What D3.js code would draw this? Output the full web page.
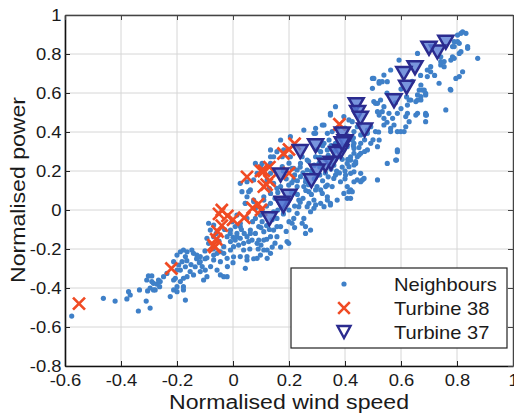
<!DOCTYPE html>
<html>
<head>
<meta charset="utf-8">
<script src="https://cdn.jsdelivr.net/npm/d3@7"></script>
<style>
body { margin: 0; background: #fff; }
text { font-family: "Liberation Sans", Arial, sans-serif; fill: #1a1a1a; }
</style>
</head>
<body>
<script>
// values
var neighbours = [
  [-0.576,-0.544],[-0.463,-0.453],[-0.421,-0.467],[-0.379,-0.456],[-0.367,-0.436],[-0.373,-0.419],[-0.334,-0.41],[-0.338,-0.518],
  [-0.31,-0.467],[-0.296,-0.503],[-0.305,-0.415],[-0.296,-0.40],[-0.284,-0.376],[-0.302,-0.338],[-0.29,-0.338],[-0.272,-0.38],
  [-0.262,-0.393],[-0.26,-0.367],[-0.278,-0.41],[-0.224,-0.444],[-0.2,-0.393],[-0.2,-0.419],[-0.248,-0.342],[-0.236,-0.325],
  [-0.2,-0.231],[-0.188,-0.214],[-0.177,-0.205],[-0.17,-0.239],[-0.17,-0.291],[-0.165,-0.26],[-0.177,-0.35],[-0.17,-0.462],
  [-0.188,-0.367],[-0.2,-0.308],[-0.212,-0.265],[-0.308,-0.359],[-0.29,-0.367],[-0.266,-0.359],[-0.284,-0.41],[-0.212,-0.359],
  [-0.206,-0.35],[-0.188,-0.308],[-0.194,-0.282],[-0.182,-0.265],[-0.164,-0.214],[-0.147,-0.205],[-0.129,-0.231],[-0.117,-0.265],
  [-0.135,-0.291],[-0.153,-0.316],[-0.141,-0.333],[-0.164,-0.342],[-0.177,-0.393],[-0.177,-0.41],[-0.212,-0.41],[-0.117,-0.316],
  [-0.099,-0.308],[-0.093,-0.342],[-0.105,-0.359],[-0.069,-0.256],[-0.057,-0.308],[-0.045,-0.333],[-0.033,-0.342],[-0.021,-0.342],
  [-0.087,-0.171],[-0.069,-0.137],[-0.087,-0.068],[-0.057,-0.222],[-0.045,-0.265],[-0.033,-0.222],[-0.009,-0.205],[0.002,-0.188],
  [0.014,-0.137],[0.026,-0.085],[0.044,-0.299],[0.05,-0.239],[0.038,-0.205],[0.056,-0.162],[0.062,-0.12],[0.086,-0.248],[0.092,-0.154],
  [-0.141,-0.222],[-0.117,-0.239],[-0.093,-0.245],[-0.069,-0.231],[-0.045,-0.214],[-0.021,-0.248],[0.002,-0.24],[0.026,-0.239],
  [0.05,-0.256],[0.074,-0.25],[0.098,-0.231],[0.122,-0.205],[0.14,-0.19],
  [-0.009,-0.103],[0.014,-0.12],[0.026,-0.145],[0.008,-0.154],[0.038,-0.171],[0.05,-0.137],[0.062,-0.103],[0.068,-0.154],
  [0.086,-0.171],[0.092,-0.085],[0.104,-0.06],[0.11,-0.111],[0.134,-0.137],[0.12,-0.15],[0.145,-0.103],[0.157,-0.085],[0.157,-0.043],
  [0.05,0.068],[0.062,0.103],[0.032,0.094],[0.08,0.009],[0.074,0.051],[0.044,0.034],[0.11,0.068],[0.134,0.034],[0.145,-0.009],
  [0.104,0.0],[0.098,-0.026],[0.104,0.239],[0.026,-0.068],[0.008,-0.085],[-0.069,-0.077],[-0.081,-0.103],[-0.093,-0.145],
  [-0.009,-0.162],[-0.033,-0.188],[-0.021,-0.137],[-0.003,-0.06],[0.014,-0.026],[0.05,-0.043],[0.08,-0.043],
  [0.366,0.53],[0.348,0.487],[0.319,0.436],[0.337,0.393],[0.289,0.393],[0.253,0.41],[0.205,0.376],[0.157,0.299],[0.145,0.273],
  [0.176,0.222],[0.217,0.214],[0.241,0.239],[0.265,0.205],[0.217,0.154],[0.253,0.12],[0.313,0.103],[0.337,0.128],[0.36,0.162],
  [0.384,0.145],[0.402,0.179],[0.414,0.222],[0.432,0.196],[0.444,0.154],[0.42,0.103],[0.396,0.085],[0.372,0.051],[0.337,0.051],
  [0.325,0.017],[0.289,0.051],[0.265,0.017],[0.396,0.308],[0.408,0.325],[0.432,0.291],[0.426,0.359],[0.384,0.273],[0.432,0.402],
  [0.444,0.427],[0.414,0.462],[0.396,0.479],[0.438,0.239],[0.444,0.273],[0.17,0.359],[0.134,0.308],
  [0.706,0.709],[0.694,0.684],[0.671,0.641],[0.677,0.615],[0.688,0.598],[0.659,0.59],[0.653,0.556],[0.629,0.564],[0.623,0.538],
  [0.688,0.487],[0.688,0.453],[0.653,0.487],[0.623,0.496],[0.617,0.479],[0.629,0.453],[0.611,0.402],[0.587,0.402],[0.563,0.402],
  [0.575,0.436],[0.539,0.436],[0.557,0.496],[0.533,0.504],[0.516,0.504],[0.516,0.547],[0.527,0.564],[0.503,0.556],[0.498,0.624],
  [0.522,0.65],[0.533,0.658],[0.551,0.658],[0.539,0.692],[0.563,0.718],[0.503,0.675],[0.587,0.308],[0.581,0.256],[0.551,0.239],
  [0.516,0.325],[0.492,0.342],[0.48,0.41],[0.456,0.385],[0.432,0.316],[0.42,0.256],[0.48,0.308],[0.671,0.564],[0.599,0.402],
  [0.82,0.914],[0.832,0.906],[0.802,0.897],[0.79,0.863],[0.808,0.855],[0.784,0.838],[0.838,0.838],[0.814,0.812],[0.784,0.786],
  [0.79,0.778],[0.874,0.778],[0.754,0.761],[0.742,0.744],[0.754,0.735],[0.706,0.735],[0.694,0.718],[0.82,0.709],[0.808,0.684],
  [0.796,0.675],[0.736,0.65],[0.778,0.615],[0.688,0.59],[0.76,0.513],[0.688,0.496],[0.776,0.619],[0.683,0.615],[0.691,0.487],
  [0.659,0.496],[0.498,0.675],[0.522,0.658],[0.593,0.769],[0.659,0.803],[0.742,0.761],[0.742,0.786],[0.778,0.769],[0.814,0.906],
  [0.802,0.863],[0.838,0.829],[0.808,0.803],[0.79,0.838],[0.348,0.496],[0.325,0.436],[0.295,0.419],[0.295,0.393],[0.354,0.402],
  [0.372,0.419],[0.426,0.453],[0.509,0.547],[0.539,0.53],[0.522,0.487],[0.539,0.47],[0.587,0.496],[0.617,0.427],[0.659,0.564],
  [0.635,0.564],[0.671,0.581],[0.665,0.615],[0.48,0.393],[0.492,0.427],[0.509,0.402],[0.563,0.419],[0.522,0.359],[0.456,0.342],
  [0.432,0.342],[0.42,0.273],[0.456,0.291],[0.408,0.239],[0.456,0.188],[0.42,0.188],[0.366,0.179],[0.354,0.12],[0.331,0.12],
  [0.319,0.085],[0.337,0.068],[0.295,0.103],[0.271,0.094],[0.259,0.145],[0.241,0.171],[0.229,0.205],[0.211,0.214],[0.205,0.273],
  [0.247,0.273],[0.265,0.256],[0.295,0.273],[0.313,0.299],[0.337,0.308],[0.343,0.359],[0.325,0.342],[0.366,0.342],[0.36,0.273],
  [0.307,0.239],[0.181,0.308],[0.176,0.273],[0.134,0.273],[0.134,0.239],[0.098,0.222],[0.086,0.188],[0.074,0.154],[0.122,0.154],
  [0.145,0.137],[0.157,0.111],[0.134,0.085],[0.11,0.051],[0.229,0.12],[0.235,0.051],[0.271,0.034],[0.295,0.026],[0.134,0.188],
  [0.199,0.128],[0.584,0.256],[0.587,0.299],[0.516,0.154],[0.462,0.154],[0.432,0.145],[0.408,0.12],[0.414,0.094],[0.408,0.06],
  [0.348,0.034],[0.313,0.034],
  [0.348,0.026],[0.289,0.009],[0.277,-0.009],[0.253,-0.043],[0.247,-0.068],[0.259,-0.085],[0.277,-0.103],[0.259,-0.12],
  [0.193,-0.162],[0.199,-0.171],[0.211,-0.068],[0.217,-0.043],[0.229,-0.017],[0.235,0.017],[0.157,-0.137],[0.17,-0.085],
  [0.134,-0.222],[0.122,-0.248],[0.11,-0.205],[0.11,-0.154],
  [0.438,0.248],[0.432,0.231],[0.45,0.282],[0.468,0.162],[0.456,0.145],[0.426,0.094],[0.42,0.06],
  [0.026,0.137],[0.05,0.145],[0.056,0.094],[0.074,0.043],[0.044,0.034],[0.08,0.239],
  [0.19,0.05],[0.21,0.09],[0.23,0.08],[0.25,0.06],[0.27,0.13],[0.29,0.16],[0.31,0.18],[0.33,0.19],[0.35,0.21],[0.37,0.2],
  [0.39,0.22],[0.41,0.26],[0.37,0.32],[0.35,0.33],[0.31,0.27],[0.29,0.23],[0.27,0.25],[0.25,0.19],[0.23,0.15],[0.21,0.14],
  [0.19,0.16],[0.17,0.12],[0.15,0.06],[0.13,0.11],[0.12,0.02],[0.16,0.0],[0.18,-0.02],[0.2,-0.06],[0.22,-0.09],[0.19,-0.11],
  [0.15,-0.17],[0.17,-0.19],[0.06,-0.2],[0.03,-0.1],[-0.01,-0.12],[-0.05,-0.16],[-0.07,-0.2],[-0.1,-0.21],[-0.12,-0.27],
  [-0.08,-0.29],[0.1,-0.18],[0.08,-0.12],[0.12,-0.08],[0.14,-0.05],[0.31,0.22],[0.33,0.26],[0.39,0.26],[0.4,0.2],[0.43,0.33],
  [0.47,0.36],[0.38,0.37],[0.4,0.42],
  [0.32,0.15],[0.34,0.17],[0.36,0.23],[0.38,0.19],[0.4,0.16],[0.3,0.12],[0.28,0.08],[0.26,0.1],[0.24,0.04],[0.22,0.02],
  [0.2,0.0],[0.18,0.06],[0.16,0.09],[0.28,0.2],[0.26,0.16],[0.24,0.22],[0.22,0.18],[0.2,0.24],[0.18,0.2],[0.3,0.31],
  [0.32,0.33],[0.34,0.28],[0.36,0.3],[0.38,0.33],[0.41,0.38],[0.43,0.37],[0.45,0.32],[0.47,0.3],[0.5,0.36],[0.52,0.4],
  [0.55,0.45],[0.57,0.47],[0.6,0.52],[0.62,0.58],[0.58,0.55],[0.55,0.6],[0.6,0.62],[0.64,0.66],[0.67,0.69],[0.72,0.69],
  [0.0,-0.14],[0.02,-0.18],[-0.03,-0.1],[-0.06,-0.12],[0.04,-0.12],[0.07,-0.06],[0.1,-0.09],[0.13,-0.1],[0.09,-0.2],
  [-0.1,-0.25],[-0.13,-0.25],[-0.15,-0.28],[-0.11,-0.29],[-0.02,-0.29],[0.0,-0.27]
];

var turbine38 = [
  [-0.55,-0.48],[-0.22,-0.30],[-0.07,-0.18],[-0.06,-0.15],[-0.065,-0.19],[-0.055,-0.11],[-0.04,-0.08],[-0.05,-0.02],
  [-0.02,-0.03],[-0.04,0.0],[0.0,-0.05],[0.04,-0.04],[0.07,0.01],[0.09,0.03],[0.1,0.0],[0.05,0.17],[0.1,0.2],[0.13,0.22],
  [0.12,0.13],[0.11,0.12],[0.13,0.15],[0.18,0.29],[0.2,0.31],[0.22,0.34],[0.2,0.19],[0.38,0.44],[0.11,0.2]
];

var turbine37 = [
  [0.76,0.86],[0.73,0.81],[0.70,0.83],[0.65,0.73],[0.61,0.70],[0.62,0.63],[0.575,0.56],[0.44,0.54],[0.445,0.50],[0.455,0.47],
  [0.47,0.41],[0.39,0.39],[0.40,0.35],[0.385,0.30],[0.37,0.29],[0.295,0.33],[0.24,0.30],[0.35,0.24],[0.33,0.23],[0.30,0.20],
  [0.28,0.15],[0.17,0.18],[0.2,0.07],[0.175,0.035],[0.18,0.02],[0.13,-0.045],[0.39,0.34]
];

var xTicks = [-0.6, -0.4, -0.2, 0, 0.2, 0.4, 0.6, 0.8, 1];
var yTicks = [-0.8, -0.6, -0.4, -0.2, 0, 0.2, 0.4, 0.6, 0.8, 1];
var seriesNames = ["Neighbours", "Turbine 38", "Turbine 37"];

var width = 514, height = 417;
var dotColor = "#3f80c8", crossColor = "#f04b24", triStroke = "#2b2b8f", triFill = "rgba(86,122,212,0.8)";

var x = d3.scaleLinear().domain([-0.6, 1]).range([65, 513]);
var y = d3.scaleLinear().domain([-0.8, 1]).range([366, 15]);

var svg = d3.select("body").append("svg")
    .attr("width", width)
    .attr("height", height);

svg.append("rect").attr("width", width).attr("height", height).attr("fill", "#fff");

// grid
svg.append("g").selectAll("line").data(xTicks).enter().append("line")
    .attr("x1", function (d) { return x(d); }).attr("x2", function (d) { return x(d); })
    .attr("y1", y(-0.8)).attr("y2", y(1))
    .attr("stroke", "#d6d6d6").attr("stroke-width", 1);
svg.append("g").selectAll("line").data(yTicks).enter().append("line")
    .attr("y1", function (d) { return y(d); }).attr("y2", function (d) { return y(d); })
    .attr("x1", x(-0.6)).attr("x2", x(1))
    .attr("stroke", "#d6d6d6").attr("stroke-width", 1);

// neighbours
svg.append("g").selectAll("circle").data(neighbours).enter().append("circle")
    .attr("cx", function (d) { return x(d[0]); })
    .attr("cy", function (d) { return y(d[1]); })
    .attr("r", 2.6)
    .attr("fill", dotColor);

function crossPath(s) {
    return "M" + (-s) + "," + (-s) + "L" + s + "," + s + "M" + (-s) + "," + s + "L" + s + "," + (-s);
}
function triPath(w, h) {
    return "M" + (-w / 2) + "," + (-h / 2) + "L" + (w / 2) + "," + (-h / 2) + "L0," + (h / 2) + "Z";
}

svg.append("g").selectAll("path").data(turbine38).enter().append("path")
    .attr("transform", function (d) { return "translate(" + x(d[0]) + "," + y(d[1]) + ")"; })
    .attr("d", crossPath(6))
    .attr("stroke", crossColor).attr("stroke-width", 2.7).attr("fill", "none");

svg.append("g").selectAll("path").data(turbine37).enter().append("path")
    .attr("transform", function (d) { return "translate(" + x(d[0]) + "," + y(d[1]) + ")"; })
    .attr("d", triPath(15, 13))
    .attr("stroke", triStroke).attr("stroke-width", 2.5).attr("stroke-linejoin", "miter")
    .attr("fill", triFill);

// axes (ticks inward, box style)
function styleText(sel, sx) {
    sel.selectAll("text")
        .attr("font-size", "16px")
        .attr("font-family", "Liberation Sans, Arial, sans-serif")
        .attr("fill", "#1a1a1a")
        .attr("transform", "scale(" + sx + ",1)");
}

var fmt = function (d) { return String(d); };

var gx = svg.append("g").attr("transform", "translate(0," + y(-0.8) + ")")
    .call(d3.axisBottom(x).tickValues(xTicks).tickFormat(fmt).tickSizeInner(-5).tickSizeOuter(0).tickPadding(9));
styleText(gx, 1.15);

var gy = svg.append("g").attr("transform", "translate(" + x(-0.6) + ",0)")
    .call(d3.axisLeft(y).tickValues(yTicks).tickFormat(fmt).tickSizeInner(-5).tickSizeOuter(0).tickPadding(3));
styleText(gy, 1.15);

var gt = svg.append("g").attr("transform", "translate(0," + y(1) + ")")
    .call(d3.axisTop(x).tickValues(xTicks).tickFormat("").tickSizeInner(-5).tickSizeOuter(0));
var gr = svg.append("g").attr("transform", "translate(" + x(1) + ",0)")
    .call(d3.axisRight(y).tickValues(yTicks).tickFormat("").tickSizeInner(-5).tickSizeOuter(0));

[gx, gy].forEach(function (g) {
    g.select(".domain").attr("stroke", "#111").attr("stroke-width", 1.6);
    g.selectAll(".tick line").attr("stroke", "#222");
});
[gt, gr].forEach(function (g) {
    g.select(".domain").attr("stroke", "#444").attr("stroke-width", 1.3);
    g.selectAll(".tick line").attr("stroke", "#444");
});

// axis titles
svg.append("text")
    .attr("transform", "translate(289,409) scale(1.1,1)")
    .attr("text-anchor", "middle")
    .attr("font-size", "21px")
    .text("Normalised wind speed");

svg.append("text")
    .attr("transform", "translate(25,190) rotate(-90) scale(1.1,1)")
    .attr("text-anchor", "middle")
    .attr("font-size", "21px")
    .text("Normalised power");

// legend
var legend = svg.append("g");
legend.append("rect")
    .attr("x", 291).attr("y", 268).attr("width", 216).attr("height", 80)
    .attr("fill", "#fff").attr("stroke", "#222").attr("stroke-width", 1.2);

var rowY = d3.scalePoint().domain(seriesNames).range([284, 332]);
var items = legend.selectAll("g.item").data(seriesNames).enter().append("g")
    .attr("class", "item")
    .attr("transform", function (d) { return "translate(344," + rowY(d) + ")"; });

items.each(function (d, i) {
    var g = d3.select(this);
    if (i === 0) {
        g.append("circle").attr("r", 2.6).attr("fill", dotColor);
    } else if (i === 1) {
        g.append("path").attr("d", crossPath(5.8)).attr("stroke", crossColor).attr("stroke-width", 2.6).attr("fill", "none");
    } else {
        g.append("path").attr("d", triPath(13, 12)).attr("stroke", triStroke).attr("stroke-width", 2.4).attr("fill", "#fff");
    }
    g.append("text")
        .attr("transform", "translate(50,7) scale(1.15,1)")
        .attr("font-size", "17.5px")
        .text(d);
});
</script>
</body>
</html>
